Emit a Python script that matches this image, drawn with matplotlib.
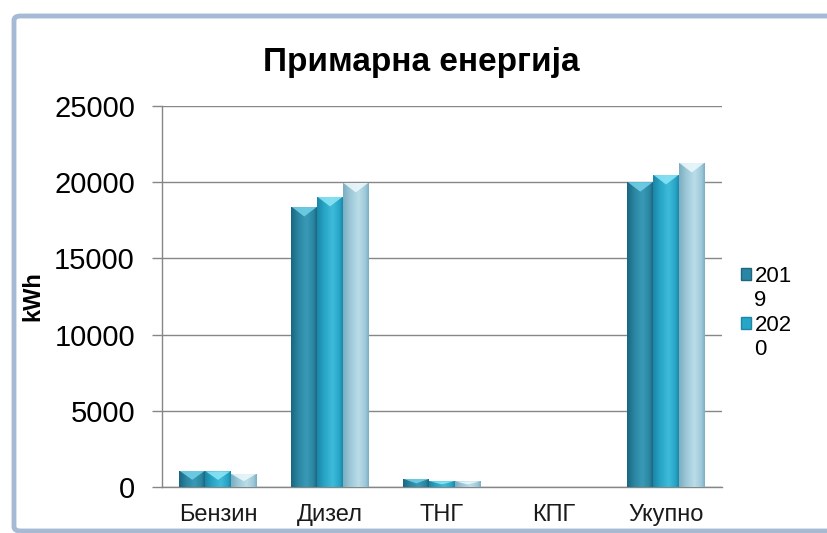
import numpy as np
import matplotlib
matplotlib.use('Agg')
import matplotlib.pyplot as plt
from matplotlib.colors import LinearSegmentedColormap
from matplotlib.patches import Patch, Polygon, FancyBboxPatch

# data
categories = ['Бензин', 'Дизел', 'ТНГ', 'КПГ', 'Укупно']
years = ['2019', '2020', '2021']
v2019 = [1050, 18370, 525, 0, 20000]
v2020 = [1030, 19030, 380, 0, 20470]
v2021 = [850, 19950, 370, 0, 21260]
series = [v2019, v2020, v2021]

# (dark, base, light, cap) per series
palettes = [
    ('#1B6680', '#2A86A2', '#3A9AB6', '#74D3EA'),
    ('#1C87A7', '#27A5C6', '#3FBBD9', '#8FE7F6'),
    ('#7BAEC1', '#9DC8D7', '#BADDE9', '#EEF9FC'),
]

plt.rcParams['font.family'] = ['Liberation Sans', 'DejaVu Sans']

fig = plt.figure(figsize=(8.28, 5.33), dpi=100)
ax = fig.add_axes([162 / 828, 1 - 487 / 533, (722 - 162) / 828, (487 - 106) / 533])

x = np.arange(len(categories))
w = 0.23
grad = np.linspace(0, 1, 64).reshape(1, -1)

for i, vals in enumerate(series):
    dark, base, light, cap = palettes[i]
    cmap = LinearSegmentedColormap.from_list(
        f's{i}', [(0, dark), (0.28, base), (0.6, light), (0.88, base), (1, dark)])
    bars = ax.bar(x + (i - 1) * w, vals, width=w, color=base, edgecolor='none', zorder=3)
    for b in bars:
        h = b.get_height()
        if h <= 0:
            continue
        x0, y0 = b.get_x(), b.get_y()
        x1 = x0 + b.get_width()
        im = ax.imshow(grad, cmap=cmap, aspect='auto', extent=(x0, x1, y0, y0 + h),
                       zorder=3.5, interpolation='bicubic')
        im.set_clip_path(b)
        ch = min(h * 0.55, 620)
        ax.add_patch(Polygon([(x0 + 0.02 * w, y0 + h), (x1 - 0.02 * w, y0 + h),
                              ((x0 + x1) / 2, y0 + h - ch)],
                             closed=True, facecolor=cap, edgecolor='none', alpha=0.85, zorder=4))

ax.set_xlim(-0.5, len(categories) - 0.5)
ax.set_ylim(0, 25000)
ax.set_yticks(np.arange(0, 25001, 5000))
ax.set_xticks(x)
ax.set_xticklabels(categories, fontsize=17, color='#1a1a1a')
ax.tick_params(axis='x', length=0, pad=12)
ax.tick_params(axis='y', length=7.5, width=1, color='#868686', labelsize=21, pad=12)
ax.grid(axis='y', color='#868686', linewidth=1, zorder=0)
ax.set_axisbelow(True)
for s in ['top', 'right']:
    ax.spines[s].set_visible(False)
for s in ['left', 'bottom']:
    ax.spines[s].set_color('#868686')
    ax.spines[s].set_linewidth(1)

fig.text(33 / 828, 1 - 296 / 533, 'kWh', rotation=90, fontsize=17, fontweight='bold',
         ha='center', va='center')
fig.text(421 / 828, 1 - 62 / 533, 'Примарна енергија', fontsize=24, fontweight='bold',
         ha='center', va='center')

# legend: only the first two entries fit in the narrow legend box, labels wrap
handles, labels = [], []
for i in range(2):
    handles.append(Patch(facecolor=palettes[i][1], edgecolor=palettes[i][0]))
    labels.append(years[i][:3])
    handles.append(Patch(facecolor='none', edgecolor='none'))
    labels.append(years[i][3:])
fig.legend(handles, labels, loc='upper left', bbox_to_anchor=(730 / 828, 1 - 255 / 533),
           frameon=False, fontsize=16, handlelength=0.45, handleheight=0.45,
           handletextpad=0.15, labelspacing=0.15, borderpad=0)

# chart frame
fig.patches.append(FancyBboxPatch((14 / 828, 2 / 533), 1.0, 1 - 16 / 533 - 2 / 533,
                                  boxstyle='round,pad=0,rounding_size=0.008',
                                  transform=fig.transFigure, facecolor='none',
                                  edgecolor='#A6BAD4', linewidth=3.5, zorder=-1))

fig.savefig('out.png', dpi=100)
